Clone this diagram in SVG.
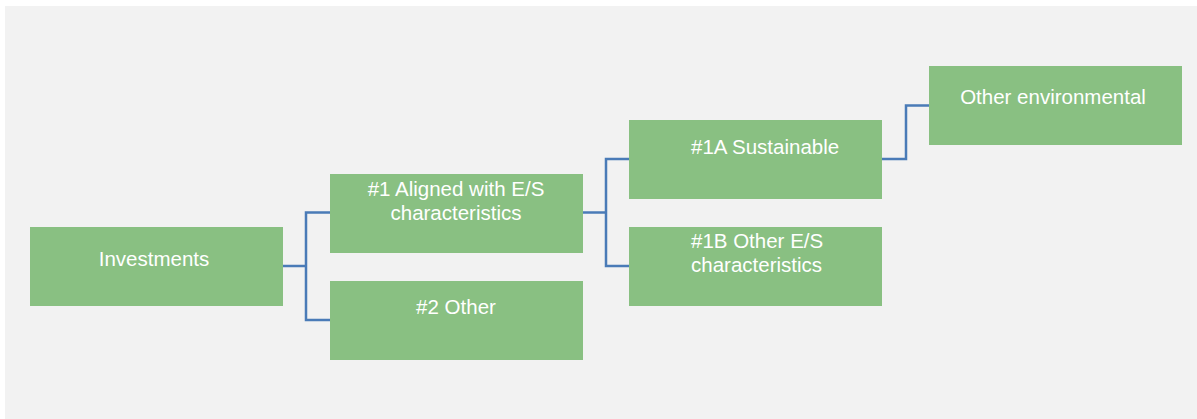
<svg xmlns="http://www.w3.org/2000/svg" width="1197" height="419" viewBox="0 0 1197 419">
<style>
.box{fill:#89c082}
.t{fill:#ffffff;font-family:"Liberation Sans",Arial,sans-serif;font-size:20.5px}
.c{text-anchor:middle}
.conn{fill:none;stroke:#4a7bb7;stroke-width:2.5}
</style>
<rect x="0" y="0" width="1197" height="419" fill="#ffffff"/>
<rect x="5" y="6" width="1192" height="413" fill="#f2f2f2"/>
<g id="connectors">
<polyline class="conn" points="283,266 306,266"/>
<polyline class="conn" points="330,212.5 306,212.5 306,320 330,320"/>
<polyline class="conn" points="583,212.5 606,212.5"/>
<polyline class="conn" points="629,159 606,159 606,266 629,266"/>
<polyline class="conn" points="882,159 906,159 906,105.5 929,105.5"/>
</g>
<g id="investments">
<rect class="box" x="30" y="227" width="253" height="79"/>
<text class="t c" x="154" y="266">Investments</text>
</g>
<g id="aligned">
<rect class="box" x="330" y="174" width="253" height="79"/>
<text class="t c" x="456" y="195.5">#1 Aligned with E/S</text>
<text class="t c" x="456" y="220">characteristics</text>
</g>
<g id="other">
<rect class="box" x="330" y="281" width="253" height="79"/>
<text class="t c" x="456" y="314">#2 Other</text>
</g>
<g id="sustainable">
<rect class="box" x="629" y="120" width="253" height="79"/>
<text class="t" x="691" y="154">#1A Sustainable</text>
</g>
<g id="other-es">
<rect class="box" x="629" y="227" width="253" height="79"/>
<text class="t" x="691" y="248">#1B Other E/S</text>
<text class="t" x="691" y="272">characteristics</text>
</g>
<g id="other-env">
<rect class="box" x="929" y="66" width="253" height="79"/>
<text class="t c" x="1053" y="104">Other environmental</text>
</g>
</svg>
